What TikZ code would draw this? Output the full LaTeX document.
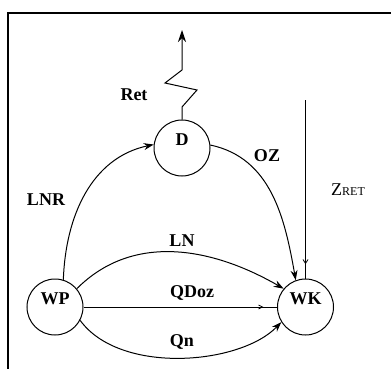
\documentclass[tikz,border=0pt]{standalone}
\usepackage{fontspec}
\setmainfont{Liberation Serif}
\usetikzlibrary{arrows.meta,decorations.markings}
\begin{document}
\begin{tikzpicture}[x=1pt,y=-1pt,
  state/.style={circle,draw,line width=1pt,minimum size=56pt,inner sep=0pt,text height=12pt,text depth=18pt,font=\fontsize{18}{18}\selectfont\bfseries},
  lbl/.style={font=\fontsize{18}{18}\selectfont\bfseries,inner sep=0pt},
  conn/.style={line width=1pt,-{Stealth[length=10pt,width=7pt]}},
  thin/.style={line width=0.8pt}]
\useasboundingbox (0,0) rectangle (391,369);
\draw[line width=1.3pt] (8,369) -- (8,13) -- (391,13);
\node[state] (d) at (182,148) {D};
\node[state] (wp) at (55,307) {WP};
\node[state] (wk) at (305.5,307) {WK};
% Ret zigzag
\coordinate (rtop) at (182,30);
\draw[line width=1pt,-{Stealth[length=12pt,width=8pt]}] (d.north) -- (182,107) -- (197,90) -- (165,83) -- (182,70) -- (rtop);
\node[lbl] (ret) at (134,95) {Ret};
% LNR
\draw[conn] (wp.73) to[out=88,in=192] (d.173);
\node[lbl] (lnr) at (46,200) {LNR};
% OZ
\draw[conn] (d.6) to[out=-12,in=100] (wk.110);
\node[lbl] (oz) at (267,156) {OZ};
% LN
\draw[conn] (wp.40) to[out=45,in=150] (wk.140);
\node[lbl] (ln) at (182,241) {LN};
% QDoz
\draw[thin,decoration={markings,mark=at position 0.93 with {\arrow{Straight Barb[length=4pt,width=4pt]}}},postaction={decorate}] (wp.east) -- (wk.west);
\node[lbl] (qdoz) at (192,293) {QDoz};
% Qn
\draw[conn] (wp.-28) .. controls (120,375) and (240,365) .. (wk.-148);
\node[lbl] (qn) at (182,342) {Qn};
% ZRET
\coordinate (zt) at (305.5,100);
\draw[thin,decoration={markings,mark=at position 0.92 with {\arrow{Straight Barb[length=4pt,width=5pt]}}},postaction={decorate}] (zt) -- (wk.north);
\node[inner sep=0pt] (zret) at (348,190) {{\fontsize{18}{18}\selectfont Z}{\fontsize{12}{12}\selectfont RET}};
\end{tikzpicture}
\end{document}
